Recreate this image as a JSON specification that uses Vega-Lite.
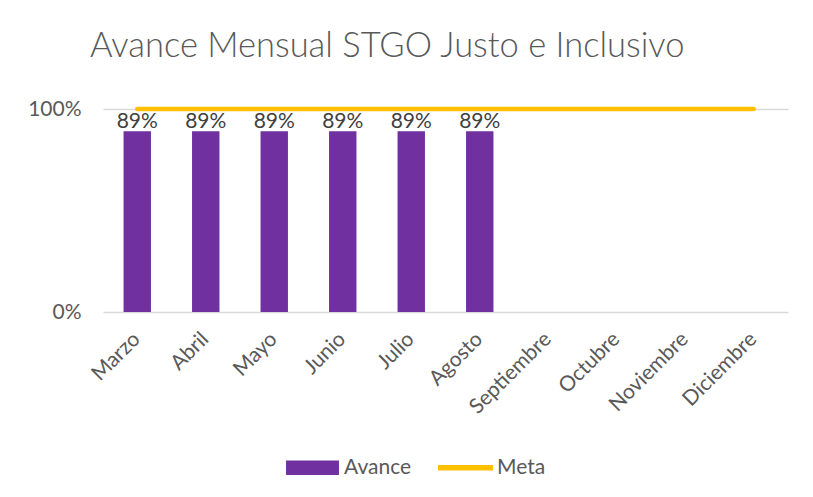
{
  "$schema": "https://vega.github.io/schema/vega-lite/v6.json",
  "autosize": "none",
  "width": 685,
  "height": 203,
  "padding": {"left": 103, "top": 109, "right": 25, "bottom": 185},
  "background": "white",
  "config": {
    "font": "Lato",
    "view": {"stroke": null}
  },
  "title": {
    "text": "Avance Mensual STGO Justo e Inclusivo",
    "anchor": "start",
    "frame": "group",
    "dx": -13,
    "offset": 34,
    "fontSize": 34.5,
    "fontWeight": 300,
    "color": "#595959",
    "font": "Lato"
  },
  "data": {
    "values": [
      {"mes": "Marzo", "avance": 0.89, "meta": 1},
      {"mes": "Abril", "avance": 0.89, "meta": 1},
      {"mes": "Mayo", "avance": 0.89, "meta": 1},
      {"mes": "Junio", "avance": 0.89, "meta": 1},
      {"mes": "Julio", "avance": 0.89, "meta": 1},
      {"mes": "Agosto", "avance": 0.89, "meta": 1},
      {"mes": "Septiembre", "avance": null, "meta": 1},
      {"mes": "Octubre", "avance": null, "meta": 1},
      {"mes": "Noviembre", "avance": null, "meta": 1},
      {"mes": "Diciembre", "avance": null, "meta": 1}
    ]
  },
  "encoding": {
    "x": {
      "field": "mes",
      "type": "nominal",
      "sort": ["Marzo", "Abril", "Mayo", "Junio", "Julio", "Agosto", "Septiembre", "Octubre", "Noviembre", "Diciembre"],
      "scale": {"paddingInner": 0.6, "paddingOuter": 0.3},
      "axis": {
        "title": null,
        "labelAngle": -45,
        "labelFontSize": 21,
        "labelColor": "#595959",
        "labelPadding": 16,
        "labelOffset": -8,
        "domain": false,
        "ticks": false,
        "grid": false
      }
    }
  },
  "layer": [
    {
      "mark": {"type": "bar"},
      "transform": [{"filter": "datum.avance != null"}],
      "encoding": {
        "y": {
          "field": "avance",
          "type": "quantitative",
          "scale": {"domain": [0, 1], "nice": false},
          "axis": {
            "title": null,
            "values": [0, 1],
            "format": ".0%",
            "labelFontSize": 21,
            "labelColor": "#595959",
            "labelPadding": 22,
            "domain": false,
            "ticks": false,
            "grid": true,
            "gridColor": "#D9D9D9",
            "gridWidth": 1.3
          }
        },
        "color": {
          "datum": "Avance",
          "type": "nominal",
          "scale": {"domain": ["Avance", "Meta"], "range": ["#7030A0", "#FFC000"]},
          "legend": {
            "title": null,
            "orient": "none",
            "legendX": 183,
            "legendY": 332,
            "direction": "horizontal",
            "labelFontSize": 21,
            "labelColor": "#595959",
            "labelOffset": 5,
            "columnPadding": 25,
            "symbolSize": 2800,
            "encode": {
              "symbols": {
                "update": {
                  "shape": {"signal": "datum.value === 'Meta' ? 'M-1.04,-0.1H1.04V0.1H-1.04Z' : 'M-1,-0.27H1V0.27H-1Z'"},
                  "fill": {"signal": "datum.value === 'Meta' ? '#FFC000' : '#7030A0'"},
                  "stroke": {"signal": "datum.value === 'Meta' ? '#FFC000' : '#7030A0'"},
                  "strokeWidth": {"value": 0},
                  "opacity": {"value": 1}
                }
              }
            }
          }
        }
      }
    },
    {
      "mark": {"type": "text", "baseline": "alphabetic", "dy": -3, "fontSize": 21, "color": "#404040"},
      "transform": [{"filter": "datum.avance != null"}],
      "encoding": {
        "y": {"field": "avance", "type": "quantitative"},
        "text": {"field": "avance", "type": "quantitative", "format": ".0%"}
      }
    },
    {
      "mark": {"type": "line", "strokeWidth": 4.5, "strokeCap": "round"},
      "encoding": {
        "y": {"field": "meta", "type": "quantitative"},
        "color": {"datum": "Meta", "type": "nominal"}
      }
    }
  ]
}
